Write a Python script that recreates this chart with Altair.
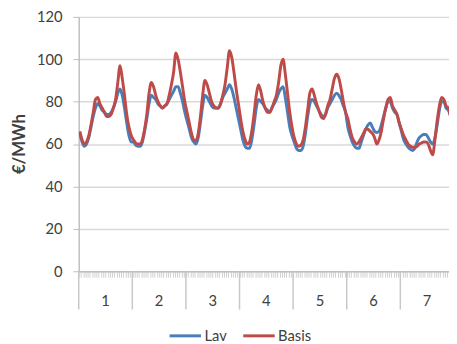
import altair as alt
import pandas as pd

days = ["1", "2", "3", "4", "5", "6", "7"]
series_names = ["Lav", "Basis"]
y_ticks = [0, 20, 40, 60, 80, 100, 120]

# hourly prices, one list of 24 values per day
lav_days = [
    [65, 61, 59, 60, 63, 68, 73, 77, 79, 78, 76, 75, 74, 74, 75, 77, 80, 84, 86, 83, 77, 70, 64, 61],
    [61, 59.5, 59, 59, 61, 66, 72, 79, 83, 82, 81, 79, 78, 77, 78, 79, 81, 83, 85, 87, 87, 84, 80, 75],
    [71, 67, 63, 61, 60, 63, 70, 78, 83, 82, 80, 78, 77, 77, 77, 79, 82, 84, 86, 88, 86, 82, 77, 72],
    [67, 62, 59, 58, 58, 62, 69, 77, 81, 80, 79, 77, 76, 75, 77, 79, 81, 84, 86, 87, 82, 75, 68, 64],
    [61, 58, 57, 57, 59, 65, 73, 79, 81, 80, 78, 76, 74, 73, 74, 77, 79, 81, 83, 84, 83, 81, 78, 75],
    [68, 64, 61, 59, 58, 58, 61, 64, 67, 69, 70, 68, 66, 65.5, 66, 69, 73, 77, 80, 80, 77, 75, 74, 70],
    [66, 62, 60, 58.5, 57.5, 57, 58, 61, 63, 64, 64.5, 64.5, 63, 61, 60, 63, 69, 76, 80, 80, 77, 76, 73, 68],
]
basis_days = [
    [66, 62, 60, 61, 64, 69, 75, 81, 82, 79, 77, 75, 73, 73, 74, 77, 81, 89, 97, 91, 83, 74, 68, 64],
    [62, 60.5, 60, 60, 62, 67, 74, 84, 89, 87, 83, 80, 78, 77, 78, 79, 83, 88, 94, 103, 100, 94, 87, 80],
    [75, 70, 65, 62, 61.5, 65, 73, 83, 90, 88, 84, 80, 78, 77, 77, 79, 83, 88, 96, 104, 101, 94, 86, 79],
    [72, 66, 62, 60, 61, 66, 74, 83, 88, 85, 80, 77, 75, 75, 77, 80, 83, 89, 97, 100, 93, 84, 75, 68],
    [63, 60, 59, 59.5, 62, 68, 76, 84, 86, 83, 79, 76, 73, 72, 74, 78, 81, 86, 91, 93, 91, 86, 80, 75],
    [72, 67, 63, 61, 60, 61, 63, 65, 67, 67, 66, 65, 63, 60, 62, 66, 72, 77, 81, 82, 78, 76, 74, 70],
    [67, 64, 62, 60, 59, 58.5, 58.5, 59, 60, 60.5, 61, 61, 60, 57, 55, 62, 71, 78, 82, 81, 78, 77, 73, 68],
]

lav = [v for d in lav_days for v in d]
basis = [v for d in basis_days for v in d]

rows = []
for name, vals in zip(series_names, [lav, basis]):
    for i, v in enumerate(vals):
        rows.append({"t": i + 0.5, "v": v, "s": name})
df = pd.DataFrame(rows)

hours_per_day = 24
day_df = pd.DataFrame({
    "day": days,
    "start": [hours_per_day * k for k in range(len(days))],
    "mid": [hours_per_day * k + hours_per_day / 2 for k in range(len(days))],
})

FONT = "Lato"
TXT = "#404040"
x_scale = alt.Scale(domain=[0, 165.8], nice=False, zero=False)
y_scale = alt.Scale(domain=[0, 120], nice=False)
color_scale = alt.Scale(domain=series_names, range=["#4a7ebb", "#be4b48"])

x_axis = alt.Axis(values=list(range(0, 166)), tickSize=6, labels=False, grid=False, title=None,
                  domainColor="#bfbfbf", domainWidth=1.5, tickColor="#cfcfcf", tickWidth=1)
y_axis = alt.Axis(values=y_ticks, tickSize=6, tickColor="#bfbfbf", domainColor="#bfbfbf", domainWidth=1.5,
                  gridColor="#d9d9d9", gridWidth=1.5, labelFont=FONT, labelFontSize=15, labelColor=TXT,
                  labelPadding=11, title="€/MWh", titleFont=FONT, titleFontSize=17, titleFontWeight="bold",
                  titleColor=TXT, titleAngle=-90, titleX=-60, titleY=129, titleAlign="center",
                  titleBaseline="middle")

legend = alt.Legend(orient="none", legendX=91, legendY=307, direction="horizontal", title=None,
                    symbolType="stroke", symbolStrokeWidth=3, symbolSize=1024, labelFont=FONT,
                    labelFontSize=15, labelColor=TXT, labelOffset=2, columnPadding=10)

def line_layer(name):
    return alt.Chart(df).transform_filter(alt.datum.s == name).mark_line(
        strokeWidth=3, interpolate="monotone", clip=True, strokeJoin="round"
    ).encode(
        x=alt.X("t:Q", scale=x_scale, axis=x_axis),
        y=alt.Y("v:Q", scale=y_scale, axis=y_axis),
        color=alt.Color("s:N", scale=color_scale, legend=legend),
    )

seps = alt.Chart(day_df).mark_rule(color="#c8c8c8", strokeWidth=1.5).encode(
    x=alt.X("start:Q", scale=x_scale, axis=x_axis),
    y=alt.value(259), y2=alt.value(298),
)
labels = alt.Chart(day_df).mark_text(font=FONT, fontSize=15, color=TXT, baseline="middle").encode(
    x=alt.X("mid:Q", scale=x_scale, axis=x_axis),
    y=alt.value(289),
    text="day:N",
)

chart = alt.layer(line_layer("Lav"), line_layer("Basis"), seps, labels).properties(
    width=377, height=259,
    autosize=alt.AutoSizeParams(type="none"),
    padding={"left": 72, "top": 6, "right": 0, "bottom": 70},
).configure_view(stroke=None)

chart.save("out.html", embed_options={"renderer": "svg", "actions": False})
